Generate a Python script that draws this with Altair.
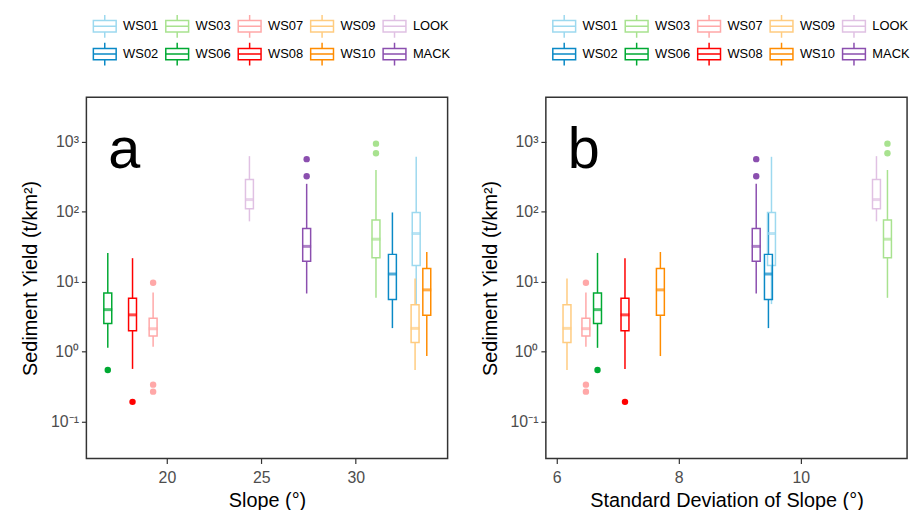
import altair as alt
import pandas as pd

# ---- data ----
sites = ["WS01", "WS02", "WS03", "WS06", "WS07", "WS08", "WS09", "WS10", "LOOK", "MACK"]
colors = ["#9DD9EF", "#0A89C6", "#A8E28F", "#00A933", "#FFA8A8", "#FF0000", "#FFCC80", "#FF8C00", "#E0C1E3", "#8B4FAF"]
slope = [33.2, 31.94, 31.07, 16.87, 19.27, 18.18, 33.14, 33.76, 24.37, 27.4]
sd_slope = [9.52, 9.47, 11.42, 6.67, 6.48, 7.12, 6.17, 7.70, 11.24, 9.27]
whisk_lo = [4.8, 2.18, 5.9, 1.14, 1.18, 0.57, 0.55, 0.87, 72.8, 6.8]
q1 = [17.1, 5.6, 22.1, 2.54, 1.68, 2.0, 1.36, 3.33, 110, 19.6]
median = [48.8, 12.9, 40.5, 4.0, 2.14, 3.37, 2.16, 7.66, 149, 32]
q3 = [97.5, 24.6, 76, 6.9, 3.02, 5.8, 4.7, 15.5, 288, 57.4]
whisk_hi = [608, 97.5, 394, 25.8, 7.0, 21.7, 11.1, 26.6, 621, 250]
out_site = ["WS03", "WS03", "WS06", "WS07", "WS07", "WS07", "WS08", "MACK", "MACK"]
out_value = [937, 684, 0.55, 9.7, 0.34, 0.27, 0.193, 563, 321]

# legend order (row-major, 5 columns) to reproduce the two-row layout
legend_order = ["WS01", "WS03", "WS07", "WS09", "LOOK", "WS02", "WS06", "WS08", "WS10", "MACK"]
legend_colors = [colors[sites.index(s)] for s in legend_order]

box = pd.DataFrame({
    "site": sites, "site_fill": sites, "slope": slope, "sd": sd_slope,
    "lo": whisk_lo, "q1": q1, "med": median, "q3": q3, "hi": whisk_hi,
})
idx = {s: i for i, s in enumerate(sites)}
outl = pd.DataFrame({
    "site_fill": out_site,
    "value": out_value,
    "slope": [slope[idx[s]] for s in out_site],
    "sd": [sd_slope[idx[s]] for s in out_site],
})

FONT = "Liberation Sans"
glyph = "M0,-1L0,-0.5M-1,-0.5L1,-0.5L1,0.5L-1,0.5ZM-1,0L1,0M0,0.5L0,1"

yscale = alt.Scale(type="log", domain=[0.03, 4300], nice=False)
label_expr = ("datum.value >= 999 ? '10³' : datum.value >= 99 ? '10²' : "
              "datum.value >= 9 ? '10¹' : datum.value >= 0.9 ? '10⁰' : '10⁻¹'")


def panel(xcol, domain, ticks, xtitle, letter):
    xs = alt.Scale(domain=domain, nice=False, zero=False)
    xax = alt.Axis(values=ticks, format="d", title=xtitle, labelPadding=6, titlePadding=5)
    yax = alt.Axis(values=[0.1, 1, 10, 100, 1000], labelExpr=label_expr,
                   title="Sediment Yield (t/km²)", labelPadding=3, titlePadding=10)
    stroke_scale = alt.Scale(domain=legend_order, range=legend_colors)
    # different domain order than the stroke scale so the legends are not merged
    fill_scale = alt.Scale(domain=sites, range=colors)
    legend = alt.Legend(
        title=None, orient="none", legendX=6, legendY=-84, direction="horizontal",
        columns=5, symbolType=glyph, symbolSize=529, symbolStrokeWidth=1.5,
        symbolFillColor="transparent", labelFontSize=13, labelFont=FONT, labelColor="black",
        columnPadding=4, rowPadding=-1, labelOffset=6,
    )
    base = alt.Chart(box)
    whisk_low = base.mark_rule(strokeWidth=1.5).encode(
        x=alt.X(f"{xcol}:Q", scale=xs, axis=xax),
        y=alt.Y("lo:Q", scale=yscale, axis=yax),
        y2="q1:Q",
        stroke=alt.Stroke("site:N", scale=stroke_scale, legend=legend),
    )
    whisk_high = base.mark_rule(strokeWidth=1.5).encode(
        x=alt.X(f"{xcol}:Q", scale=xs),
        y=alt.Y("q3:Q", scale=yscale),
        y2="hi:Q",
        stroke=alt.Stroke("site:N", scale=stroke_scale, legend=legend),
    )
    bx = base.mark_bar(size=8, filled=False, strokeWidth=1.5).encode(
        x=alt.X(f"{xcol}:Q", scale=xs),
        y=alt.Y("q1:Q", scale=yscale),
        y2="q3:Q",
        stroke=alt.Stroke("site:N", scale=stroke_scale, legend=legend),
    )
    med = base.mark_tick(orient="horizontal", size=9, thickness=3).encode(
        x=alt.X(f"{xcol}:Q", scale=xs),
        y=alt.Y("med:Q", scale=yscale),
        color=alt.Color("site_fill:N", scale=fill_scale, legend=None),
    )
    pts = alt.Chart(outl).mark_circle(size=42, opacity=1).encode(
        x=alt.X(f"{xcol}:Q", scale=xs),
        y=alt.Y("value:Q", scale=yscale),
        color=alt.Color("site_fill:N", scale=fill_scale, legend=None),
    )
    lab = alt.Chart(pd.DataFrame({"t": [letter]})).mark_text(
        align="left", baseline="alphabetic", fontSize=58, font=FONT, color="black"
    ).encode(x=alt.value(22), y=alt.value(71), text="t:N")
    return alt.layer(whisk_low, whisk_high, bx, med, pts, lab).properties(width=364, height=364)


pa = panel("slope", [16.0, 34.6], [20, 25, 30], "Slope (°)", "a")
pb = panel("sd", [5.905, 11.66], [6, 8, 10], "Standard Deviation of Slope (°)", "b")

chart = alt.hconcat(pa, pb, spacing=28).resolve_scale(
    color="independent", stroke="independent"
).resolve_legend(stroke="independent").configure(
    background="white", padding={"left": 12, "top": 3, "right": 5, "bottom": 5}
).configure_view(
    stroke="#333333", strokeWidth=1.5
).configure_axis(
    domain=False, grid=False, tickColor="#333333", tickWidth=1.2, tickSize=5,
    labelColor="#4D4D4D", labelFontSize=16, labelFont=FONT,
    titleFontSize=20, titleFontWeight="normal", titleColor="black", titleFont=FONT,
)

chart.save("out.html", embed_options={"renderer": "svg", "actions": False})
